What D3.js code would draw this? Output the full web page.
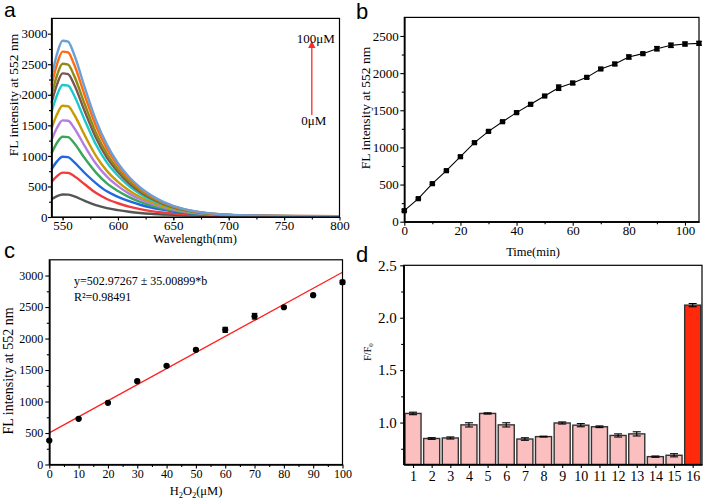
<!DOCTYPE html>
<html>
<head>
<meta charset="utf-8">
<script src="https://cdn.jsdelivr.net/npm/d3@7"></script>
<style>
  body { margin: 0; background: #fff; }
  svg text { font-family: "Liberation Serif", "Times New Roman", serif; fill: #000; }
  .axis .domain { stroke: #000; stroke-width: 1.2; }
  .axis line { stroke: #000; stroke-width: 1.1; }
  svg text.plabel { font-family: "Liberation Sans", Arial, sans-serif; font-size: 22px; }
</style>
</head>
<body>
<div id="chart"></div>
<script>
// ---- panel a: spectra, 0..100 uM
var wavelengths = [540, 545, 550, 555, 560, 570, 580, 590, 600, 610, 620, 630, 640, 650, 660, 680, 700, 730, 760, 800];
var concLabels = ["0μM", "10μM", "20μM", "30μM", "40μM", "50μM", "60μM", "70μM", "80μM", "90μM", "100μM"];
var spectra = [
  [290, 340, 368, 366, 340, 265, 195, 145, 112, 86, 66, 52, 42, 34, 28, 18, 12, 8, 6, 5],
  [575, 670, 726, 722, 675, 535, 395, 295, 225, 170, 128, 97, 74, 58, 45, 27, 17, 11, 8, 6],
  [780, 910, 985, 980, 905, 720, 555, 420, 330, 258, 200, 155, 120, 90, 68, 39, 23, 14, 10, 8],
  [1040, 1215, 1313, 1307, 1220, 960, 730, 550, 425, 325, 248, 188, 140, 104, 78, 44, 26, 15, 11, 9],
  [1255, 1460, 1582, 1575, 1470, 1160, 875, 660, 505, 383, 290, 218, 162, 120, 88, 48, 28, 16, 12, 10],
  [1445, 1680, 1820, 1812, 1690, 1335, 1005, 755, 575, 435, 328, 245, 180, 132, 96, 52, 30, 17, 13, 10],
  [1715, 1995, 2160, 2150, 2005, 1585, 1190, 890, 675, 505, 378, 280, 205, 148, 106, 56, 32, 18, 14, 11],
  [1865, 2170, 2350, 2338, 2185, 1730, 1300, 970, 735, 550, 410, 302, 220, 158, 113, 59, 33, 19, 14, 11],
  [1990, 2320, 2508, 2495, 2330, 1845, 1385, 1035, 782, 585, 435, 320, 232, 166, 118, 61, 34, 20, 15, 12],
  [2150, 2500, 2707, 2693, 2515, 1990, 1495, 1115, 843, 628, 465, 340, 245, 175, 124, 64, 35, 21, 16, 13],
  [2290, 2670, 2885, 2870, 2680, 2120, 1590, 1185, 880, 655, 485, 355, 255, 182, 130, 67, 37, 22, 17, 14]
];
var spectraColors = ["#555555", "#f23b3b", "#1f68e0", "#3aa65c", "#b27ee2", "#c89b05", "#19c9c9", "#7d5651", "#8c8c14", "#ff6a12", "#6b9fd8"];

// ---- panel b: time course
var times = [0, 5, 10, 15, 20, 25, 30, 35, 40, 45, 50, 55, 60, 65, 70, 75, 80, 85, 90, 95, 100, 105];
var timeIntensity = [148, 310, 512, 687, 875, 1064, 1216, 1346, 1468, 1580, 1692, 1804, 1867, 1943, 2056, 2123, 2217, 2262, 2329, 2374, 2392, 2401];
var timeErr = [12, 12, 12, 12, 14, 14, 14, 12, 12, 12, 12, 38, 22, 14, 14, 22, 28, 14, 30, 30, 26, 26];

// ---- panel c: H2O2 titration
var h2o2Conc = [0, 10, 20, 30, 40, 50, 60, 70, 80, 90, 100];
var h2o2Intensity = [381, 725, 979, 1323, 1566, 1820, 2138, 2354, 2497, 2688, 2894];
var h2o2Err = [14, 14, 14, 14, 14, 18, 40, 45, 18, 14, 30];
var fitX = [0, 100];
var fitY = [502.97, 3053];

// ---- panel d: selectivity
var sampleIds = [1, 2, 3, 4, 5, 6, 7, 8, 9, 10, 11, 12, 13, 14, 15, 16];
var ratioValues = [1.087, 0.848, 0.853, 0.978, 1.087, 0.978, 0.843, 0.866, 0.996, 0.975, 0.96, 0.877, 0.892, 0.675, 0.688, 2.12];
var ratioErr = [0.012, 0.008, 0.01, 0.02, 0.006, 0.02, 0.012, 0.004, 0.01, 0.015, 0.008, 0.015, 0.02, 0.006, 0.015, 0.015];

var serif = '"Liberation Serif", "Times New Roman", serif';

var svg = d3.select("#chart").append("svg")
  .attr("width", 704)
  .attr("height", 499);

// axes with minor ticks and a closed box
function drawAxes(g, x, y, o) {
  var x0 = x.range()[0], x1 = x.range()[1];
  var y0 = y.range()[0], y1 = y.range()[1];

  g.append("g").attr("class", "axis").attr("transform", "translate(0," + y0 + ")")
    .call(d3.axisBottom(x).tickValues(o.xMinor).tickSize(2.5).tickSizeOuter(0).tickFormat(""));
  g.append("g").attr("class", "axis").attr("transform", "translate(" + x0 + ",0)")
    .call(d3.axisLeft(y).tickValues(o.yMinor).tickSize(2.5).tickSizeOuter(0).tickFormat(""));

  g.append("g").attr("class", "axis").attr("transform", "translate(0," + y0 + ")")
    .call(d3.axisBottom(x).tickValues(o.xTicks).tickSize(o.tick).tickPadding(o.padX)
      .tickSizeOuter(0).tickFormat(o.xFmt || d3.format("d")))
    .attr("font-family", null).attr("font-size", null)
    .selectAll("text").style("font-size", o.xFont + "px").style("font-family", serif);
  g.append("g").attr("class", "axis").attr("transform", "translate(" + x0 + ",0)")
    .call(d3.axisLeft(y).tickValues(o.yTicks).tickSize(o.tick).tickPadding(o.padY)
      .tickSizeOuter(0).tickFormat(o.yFmt || d3.format("d")))
    .attr("font-family", null).attr("font-size", null)
    .selectAll("text").style("font-size", o.yFont + "px").style("font-family", serif);

  g.append("rect")
    .attr("x", x0).attr("y", y1)
    .attr("width", x1 - x0).attr("height", y0 - y1)
    .attr("fill", "none").attr("stroke", "#000").attr("stroke-width", 1.2);
}

function yTitle(g, text, cx, cy, size) {
  g.append("text")
    .attr("transform", "translate(" + cx + "," + cy + ") rotate(-90)")
    .attr("text-anchor", "middle")
    .style("font-size", size + "px")
    .text(text);
}

function errorBars(g, xs, ys, es, x, y, cap) {
  var d = xs.map(function(v, i) { return { x: v, y: ys[i], e: es[i] }; });
  var eb = g.append("g").attr("stroke", "#000").attr("stroke-width", 1.1);
  eb.selectAll("line.v").data(d).enter().append("line")
    .attr("x1", function(p) { return x(p.x); }).attr("x2", function(p) { return x(p.x); })
    .attr("y1", function(p) { return y(p.y - p.e); }).attr("y2", function(p) { return y(p.y + p.e); });
  [-1, 1].forEach(function(s) {
    eb.selectAll("line.c" + s).data(d).enter().append("line")
      .attr("x1", function(p) { return x(p.x) - cap; }).attr("x2", function(p) { return x(p.x) + cap; })
      .attr("y1", function(p) { return y(p.y + s * p.e); }).attr("y2", function(p) { return y(p.y + s * p.e); });
  });
}

// ================= a
var ga = svg.append("g");
var xa = d3.scaleLinear().domain([540, 800]).range([51.5, 339.5]);
var ya = d3.scaleLinear().domain([0, 3250]).range([217, 18.4]);

var lineA = d3.line()
  .x(function(d, i) { return xa(wavelengths[i]); })
  .y(function(d) { return ya(d); })
  .curve(d3.curveMonotoneX);

ga.selectAll("path.spec").data(spectra).enter().append("path")
  .attr("class", "spec")
  .attr("d", lineA)
  .attr("fill", "none")
  .attr("stroke", function(d, i) { return spectraColors[i]; })
  .attr("stroke-width", 2.4)
  .attr("stroke-linejoin", "round");

drawAxes(ga, xa, ya, {
  xTicks: d3.range(550, 801, 50), xMinor: d3.range(550, 800, 25),
  yTicks: d3.range(0, 3001, 500), yMinor: d3.range(250, 3250, 500),
  tick: 3.5, padX: 0.5, padY: 0.5, xFont: 13, yFont: 13
});

// red arrow 0 -> 100 uM
ga.append("defs").append("marker")
  .attr("id", "arrowRed").attr("viewBox", "0 0 10 10")
  .attr("refX", 8).attr("refY", 5)
  .attr("markerWidth", 6).attr("markerHeight", 6).attr("orient", "auto")
  .append("path").attr("d", "M0,0 L10,5 L0,10 z").attr("fill", "#ff2a2a");
ga.append("line")
  .attr("x1", xa(775)).attr("x2", xa(775))
  .attr("y1", ya(1670)).attr("y2", ya(2860))
  .attr("stroke", "#ff2a2a").attr("stroke-width", 1.3)
  .attr("marker-end", "url(#arrowRed)");
ga.append("text").attr("x", xa(775) + 4).attr("y", 43).attr("text-anchor", "middle")
  .style("font-size", "13px").text(concLabels[10]);
ga.append("text").attr("x", xa(775) + 2).attr("y", 125).attr("text-anchor", "middle")
  .style("font-size", "13px").text(concLabels[0]);

ga.append("text").attr("x", 195).attr("y", 243).attr("text-anchor", "middle")
  .style("font-size", "12.5px").text("Wavelength(nm)");
yTitle(ga, "FL intensity at 552 nm", 18, 95, 13.5);
ga.append("text").attr("class", "plabel").attr("x", 4).attr("y", 17).style("font-size", "21px").text("a");

// ================= b
var gb = svg.append("g");
var xb = d3.scaleLinear().domain([0, 105]).range([404.3, 699]);
var yb = d3.scaleLinear().domain([0, 2750]).range([221.7, 17.4]);

gb.append("path")
  .datum(times)
  .attr("d", d3.line()
    .x(function(d) { return xb(d); })
    .y(function(d, i) { return yb(timeIntensity[i]); }))
  .attr("fill", "none").attr("stroke", "#000").attr("stroke-width", 1.1);
errorBars(gb, times, timeIntensity, timeErr, xb, yb, 2.8);
gb.selectAll("rect.pt").data(times).enter().append("rect")
  .attr("class", "pt")
  .attr("x", function(d) { return xb(d) - 2.6; })
  .attr("y", function(d, i) { return yb(timeIntensity[i]) - 2.6; })
  .attr("width", 5.2).attr("height", 5.2)
  .attr("fill", "#000");

drawAxes(gb, xb, yb, {
  xTicks: d3.range(0, 101, 20), xMinor: d3.range(10, 105, 20),
  yTicks: d3.range(0, 2501, 500), yMinor: d3.range(250, 2750, 500),
  tick: 4, padX: 0.5, padY: 1.5, xFont: 13, yFont: 13
});
gb.append("text").attr("x", 533).attr("y", 256).attr("text-anchor", "middle")
  .style("font-size", "12.5px").text("Time(min)");
yTitle(gb, "FL intensity at 552 nm", 370, 108, 13.5);
gb.append("text").attr("class", "plabel").attr("x", 356).attr("y", 19).text("b");

// ================= c
var gc = svg.append("g");
var xc = d3.scaleLinear().domain([0, 100]).range([49.3, 342.5]);
var yc = d3.scaleLinear().domain([0, 3250]).range([464.5, 259.8]);

gc.append("path")
  .datum(fitX)
  .attr("d", d3.line()
    .x(function(d) { return xc(d); })
    .y(function(d, i) { return yc(fitY[i]); }))
  .attr("stroke", "#ff2020").attr("stroke-width", 1.3).attr("fill", "none");
errorBars(gc, h2o2Conc, h2o2Intensity, h2o2Err, xc, yc, 2.8);
gc.selectAll("circle.pt").data(h2o2Conc).enter().append("circle")
  .attr("class", "pt")
  .attr("cx", function(d) { return xc(d); })
  .attr("cy", function(d, i) { return yc(h2o2Intensity[i]); })
  .attr("r", 3.1)
  .attr("fill", "#000");

drawAxes(gc, xc, yc, {
  xTicks: d3.range(0, 101, 10), xMinor: d3.range(5, 100, 10),
  yTicks: d3.range(0, 3001, 500), yMinor: d3.range(250, 3250, 500),
  tick: 4, padX: 1, padY: 2, xFont: 12, yFont: 12
});
gc.append("text").attr("x", 74).attr("y", 284.5).style("font-size", "12px")
  .text("y=502.97267 ± 35.00899*b");
gc.append("text").attr("x", 74).attr("y", 300.5).style("font-size", "12px")
  .text("R²=0.98491");
var hx = gc.append("text").attr("x", 196).attr("y", 495).attr("text-anchor", "middle")
  .style("font-size", "12.5px");
hx.append("tspan").text("H");
hx.append("tspan").attr("dy", 3).style("font-size", "8.5px").text("2");
hx.append("tspan").attr("dy", -3).text("O");
hx.append("tspan").attr("dy", 3).style("font-size", "8.5px").text("2");
hx.append("tspan").attr("dy", -3).text("(μM)");
yTitle(gc, "FL intensity at 552 nm", 12.5, 371, 14);
gc.append("text").attr("class", "plabel").attr("x", 4).attr("y", 258).text("c");

// ================= d
var gd = svg.append("g");
var xd = d3.scaleLinear().domain([0.5, 16.5]).range([403.7, 702]);
var yd = d3.scaleLinear().domain([0.6, 2.5]).range([464.5, 265.3]);
var barW = 0.86;

gd.selectAll("rect.bar").data(sampleIds).enter().append("rect")
  .attr("class", "bar")
  .attr("x", function(d) { return xd(d - barW / 2); })
  .attr("width", xd(barW) - xd(0))
  .attr("y", function(d, i) { return yd(ratioValues[i]); })
  .attr("height", function(d, i) { return yd(0.6) - yd(ratioValues[i]); })
  .attr("fill", function(d) { return d === 16 ? "#ff2a0c" : "#fcbfbf"; })
  .attr("stroke", "#333")
  .attr("stroke-width", 1.4);
errorBars(gd, sampleIds, ratioValues, ratioErr, xd, yd, 4);

drawAxes(gd, xd, yd, {
  xTicks: sampleIds, xMinor: [],
  yTicks: [1.0, 1.5, 2.0, 2.5], yMinor: [0.75, 1.25, 1.75, 2.25],
  tick: 3.5, padX: 3, padY: 3.5, xFont: 14, yFont: 15,
  yFmt: d3.format(".1f")
});
var fy = gd.append("text")
  .attr("transform", "translate(371,352) rotate(-90)")
  .attr("text-anchor", "middle")
  .style("font-size", "10px");
fy.append("tspan").text("F/F");
fy.append("tspan").attr("dy", 2).style("font-size", "7px").text("0");
gd.append("text").attr("class", "plabel").attr("x", 356).attr("y", 262).text("d");
</script>
</body>
</html>
